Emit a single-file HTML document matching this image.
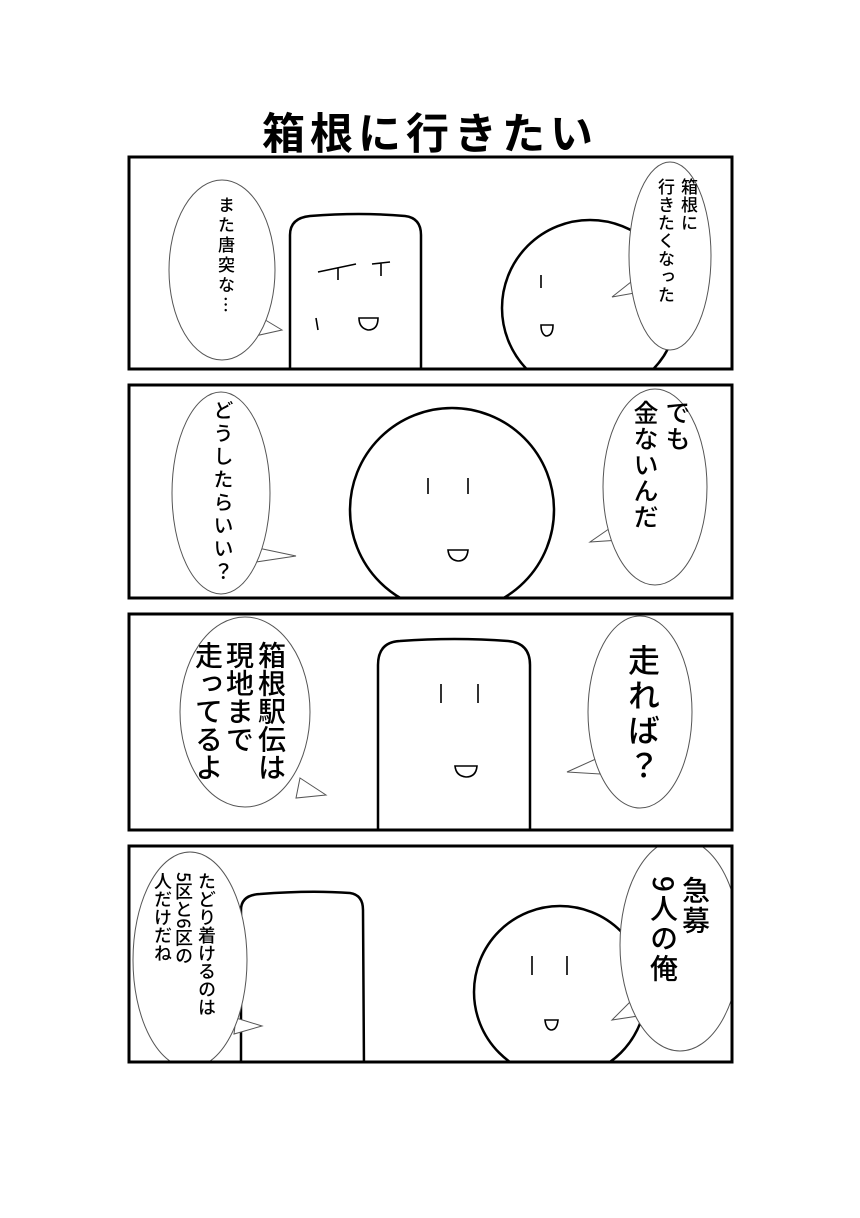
<!DOCTYPE html>
<html><head><meta charset="utf-8"><style>
html,body{margin:0;padding:0;background:#fff}
body{width:860px;height:1218px;position:relative;overflow:hidden;font-family:"Liberation Sans","Noto Sans CJK JP",sans-serif}
.t{position:absolute;writing-mode:vertical-rl;color:#000;white-space:nowrap;line-height:1;font-family:"Noto Sans CJK JP",sans-serif;font-weight:500}
.title{position:absolute;left:0;width:860px;top:100px;text-align:center;font-size:43px;font-weight:bold;font-family:"Noto Sans CJK JP",sans-serif;letter-spacing:5px}
</style></head><body>
<div class="title">箱根に行きたい</div>
<svg width="860" height="1218" style="position:absolute;left:0;top:0">
<defs>
<clipPath id="c1"><rect x="129" y="157" width="603" height="212"/></clipPath>
<clipPath id="c2"><rect x="129" y="385" width="603" height="213"/></clipPath>
<clipPath id="c3"><rect x="129" y="614" width="603" height="216"/></clipPath>
<clipPath id="c4"><rect x="129" y="846" width="603" height="216"/></clipPath>
</defs>
<g fill="none" stroke="#000" stroke-width="2.5">
<g clip-path="url(#c1)">
<path d="M290,380 L290,235 Q290,218 310,216 Q360,212 405,216 Q421,218 421,235 L421,380"/>
<circle cx="590" cy="308" r="88"/>
<g stroke-width="1.6"><path d="M318,272 L356,264 M338,268 L338,280 M372,264 L390,262 M381,263 L381,276 M316,318 L318,330 M541,275 L541,288"/>
<path d="M359,318 L378,318 Q378,330 368,330 Q359,328 359,318Z M541,325 L553,325 Q553,336 546,336 Q541,334 541,325Z"/></g>
</g>
<g clip-path="url(#c2)">
<circle cx="452" cy="510" r="102"/>
<g stroke-width="1.6"><path d="M428,478 L428,494 M468,478 L468,494"/>
<path d="M448,550 L468,550 Q467,561 458,561 Q449,560 448,550Z"/></g>
</g>
<g clip-path="url(#c3)">
<path d="M378,840 L378,665 Q378,642 400,641 Q455,637 508,641 Q530,643 530,665 L530,840"/>
<g stroke-width="1.6"><path d="M441,684 L441,703 M478,684 L478,703"/>
<path d="M455,766 L477,766 Q476,777 466,777 Q456,776 455,766Z"/></g>
</g>
<g clip-path="url(#c4)">
<path d="M241,1070 L241,910 Q241,895 260,894 Q310,890 350,893 Q363,895 363,910 L364,1070"/>
<circle cx="560" cy="992" r="86"/>
<g stroke-width="1.6"><path d="M532,956 L532,975 M567,956 L567,975"/>
<path d="M545,1020 L558,1020 Q557,1030 551,1030 Q546,1029 545,1020Z"/></g>
</g>
</g>
<g fill="#fff" stroke="#555" stroke-width="1">
<path d="M262,318 L282,330 L255,336Z"/>
<path d="M636,278 L612,297 L640,292Z"/>
<path d="M258,548 L296,556 L256,562Z"/>
<path d="M616,524 L590,542 L620,540Z"/>
<path d="M300,778 L326,795 L296,798Z"/>
<path d="M598,758 L567,772 L600,774Z"/>
<path d="M236,1018 L262,1026 L234,1034Z"/>
<path d="M632,1000 L612,1020 L638,1016Z"/>
</g>
<g fill="#fff" stroke="#555" stroke-width="1">
<g clip-path="url(#c1)">
<ellipse cx="222" cy="270" rx="53" ry="90"/>
<ellipse cx="670" cy="256" rx="41" ry="94"/>
</g>
<g clip-path="url(#c2)">
<ellipse cx="221" cy="493" rx="49" ry="101"/>
<ellipse cx="655" cy="487" rx="52" ry="98"/>
</g>
<g clip-path="url(#c3)">
<ellipse cx="245" cy="712" rx="65" ry="95"/>
<ellipse cx="640" cy="712" rx="52" ry="96"/>
</g>
<g clip-path="url(#c4)">
<ellipse cx="190" cy="960" rx="57" ry="108"/>
<ellipse cx="680" cy="945" rx="60" ry="106"/>
</g>
</g>
<g fill="none" stroke="#000" stroke-width="3">
<rect x="129" y="157" width="603" height="212"/>
<rect x="129" y="385" width="603" height="213"/>
<rect x="129" y="614" width="603" height="216"/>
<rect x="129" y="846" width="603" height="216"/>
</g>
</svg>
<div class="t" style="left:218px;top:196px;font-size:17px;letter-spacing:3px">また唐突な…</div>
<div class="t" style="left:681px;top:178px;font-size:17px;letter-spacing:1px">箱根に</div>
<div class="t" style="left:658px;top:178px;font-size:17px;letter-spacing:1px">行きたくなった</div>

<div class="t" style="left:213px;top:400px;font-size:20px;letter-spacing:3px">どうしたらいい？</div>
<div class="t" style="left:665px;top:400px;font-size:25px;letter-spacing:1px">でも</div>
<div class="t" style="left:633px;top:400px;font-size:25px;letter-spacing:1px">金ないんだ</div>

<div class="t" style="left:258px;top:641px;font-size:28px">箱根駅伝は</div>
<div class="t" style="left:226px;top:641px;font-size:28px">現地まで</div>
<div class="t" style="left:195px;top:641px;font-size:28px">走ってるよ</div>
<div class="t" style="left:628px;top:644px;font-size:32px;letter-spacing:3px">走れば？</div>

<div class="t" style="left:198px;top:872px;font-size:18px">たどり着けるのは</div>
<div class="t" style="left:175px;top:872px;font-size:18px">5区と6区の</div>
<div class="t" style="left:154px;top:872px;font-size:18px">人だけだね</div>
<div class="t" style="left:682px;top:876px;font-size:28px;letter-spacing:2px">急募</div>
<div class="t" style="left:650px;top:876px;font-size:28px;letter-spacing:2px">9人の俺</div>
</body></html>
